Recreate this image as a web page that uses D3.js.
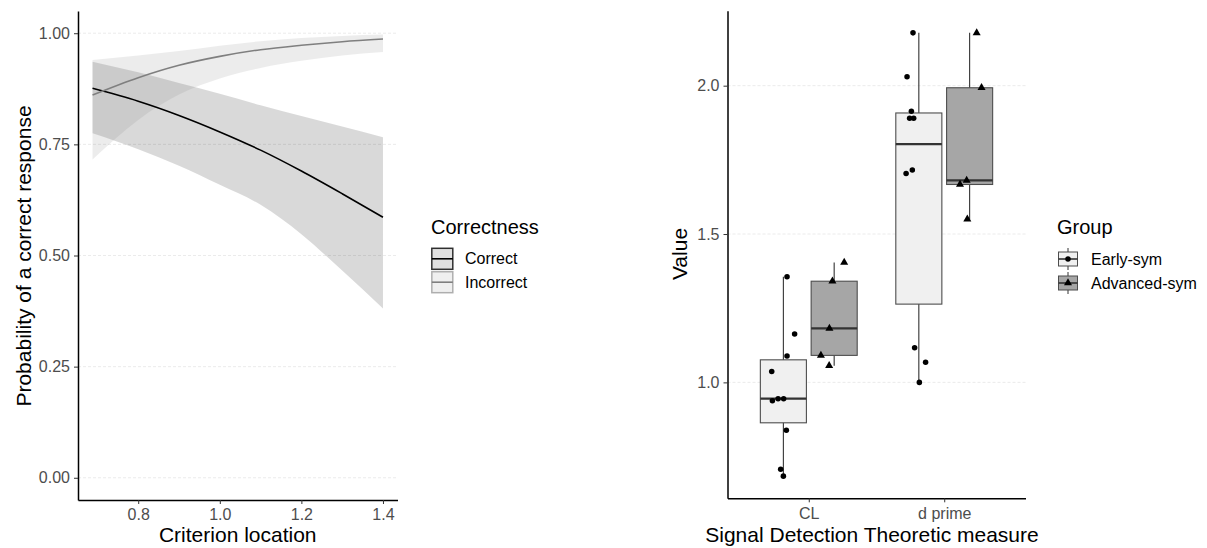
<!DOCTYPE html>
<html>
<head>
<meta charset="utf-8">
<script src="https://cdn.jsdelivr.net/npm/d3@7"></script>
<style>
  body { margin: 0; background: #fff; }
  svg text { font-family: "Liberation Sans", Arial, sans-serif; }
</style>
</head>
<body>
<div id="chart"></div>
<script>
// ---- left plot: fitted probability vs criterion location ----
var criterion = [0.688, 0.8, 0.9, 1.0, 1.1, 1.2, 1.3, 1.4];
var correctFit = [0.876, 0.847, 0.815, 0.778, 0.737, 0.690, 0.639, 0.586];
var correctLo = [0.775, 0.739, 0.702, 0.659, 0.614, 0.548, 0.466, 0.381];
var correctHi = [0.936, 0.912, 0.888, 0.864, 0.838, 0.814, 0.790, 0.766];
var incorrectFit = [0.861, 0.900, 0.928, 0.948, 0.963, 0.973, 0.981, 0.987];
var incorrectLo = [0.716, 0.805, 0.862, 0.898, 0.922, 0.938, 0.950, 0.958];
var incorrectHi = [0.940, 0.950, 0.960, 0.972, 0.982, 0.989, 0.994, 0.997];
var correctness = ["Correct", "Incorrect"];
var probTicks = [0, 0.25, 0.5, 0.75, 1];
var critTicks = [0.8, 1.0, 1.2, 1.4];

// ---- right plot: SDT measures per group ----
var measures = ["CL", "d prime"];
var groups = ["Early-sym", "Advanced-sym"];
var earlyCL = [1.356, 1.163, 1.089, 1.037, 0.938, 0.945, 0.945, 0.839, 0.707, 0.684];
var earlyCLJitter = [0.027, 0.083, 0.027, -0.086, -0.081, -0.039, 0.002, 0.022, -0.020, 0.0];
var advancedCL = [1.404, 1.341, 1.182, 1.091, 1.056];
var advancedCLJitter = [0.074, -0.013, -0.035, -0.098, -0.037];
var earlyDprime = [2.178, 2.030, 1.914, 1.890, 1.890, 1.704, 1.716, 1.117, 1.068, 1.000];
var earlyDprimeJitter = [-0.043, -0.087, -0.055, -0.068, -0.038, -0.094, -0.048, -0.031, 0.050, 0.004];
var advancedDprime = [2.178, 1.993, 1.681, 1.667, 1.550];
var advancedDprimeJitter = [0.052, 0.088, -0.022, -0.071, -0.017];
var valueTicks = [1.0, 1.5, 2.0];

// ggplot style 5% padding
function expand(ext) {
  var pad = (ext[1] - ext[0]) * 0.05;
  return [ext[0] - pad, ext[1] + pad];
}

var svg = d3.select("#chart")
  .append("svg")
  .attr("width", 1207)
  .attr("height", 548);

var lineCol = { "Correct": "#000000", "Incorrect": "#7f7f7f" };

// ================= left panel =================
var x = d3.scaleLinear()
  .domain(expand(d3.extent(criterion)))
  .range([78, 397.5]);
var y = d3.scaleLinear()
  .domain(expand([0, 1]))
  .range([500, 11]);

var left = svg.append("g");

// grid
left.selectAll(".grid")
  .data(probTicks)
  .enter().append("line")
  .attr("x1", x.range()[0]).attr("x2", x.range()[1])
  .attr("y1", function (d) { return y(d); })
  .attr("y2", function (d) { return y(d); })
  .attr("stroke", "#e6e6e6")
  .attr("stroke-width", 0.8)
  .attr("stroke-dasharray", "3,2");

var series = [
  { name: "Correct", fit: correctFit, lo: correctLo, hi: correctHi },
  { name: "Incorrect", fit: incorrectFit, lo: incorrectLo, hi: incorrectHi }
];

var area = d3.area()
  .x(function (d, i) { return x(criterion[i]); })
  .y0(function (d) { return y(d[0]); })
  .y1(function (d) { return y(d[1]); })
  .curve(d3.curveMonotoneX);

var line = d3.line()
  .x(function (d, i) { return x(criterion[i]); })
  .y(function (d) { return y(d); })
  .curve(d3.curveMonotoneX);

// ribbons
series.forEach(function (s) {
  left.append("path")
    .datum(s.lo.map(function (v, i) { return [v, s.hi[i]]; }))
    .attr("d", area)
    .attr("fill", lineCol[s.name])
    .attr("fill-opacity", 0.15);
});

// fitted lines
series.forEach(function (s) {
  left.append("path")
    .datum(s.fit)
    .attr("d", line)
    .attr("fill", "none")
    .attr("stroke", lineCol[s.name])
    .attr("stroke-width", 1.6);
});

// axes
var xAxisL = left.append("g")
  .attr("transform", "translate(0," + y.range()[0] + ")")
  .call(d3.axisBottom(x).tickValues(critTicks).tickFormat(d3.format(".1f"))
    .tickSize(4).tickSizeOuter(0).tickPadding(5));
var yAxisL = left.append("g")
  .attr("transform", "translate(" + x.range()[0] + ",0)")
  .call(d3.axisLeft(y).tickValues(probTicks).tickFormat(d3.format(".2f"))
    .tickSize(4).tickSizeOuter(0).tickPadding(4));

// titles
left.append("text")
  .attr("x", (x.range()[0] + x.range()[1]) / 2)
  .attr("y", 542)
  .attr("text-anchor", "middle")
  .style("font-size", "21px")
  .text("Criterion location");
left.append("text")
  .attr("transform", "translate(31,256) rotate(-90)")
  .attr("text-anchor", "middle")
  .style("font-size", "21px")
  .text("Probability of a correct response");

// legend
var legL = svg.append("g").attr("transform", "translate(431,0)");
legL.append("text")
  .attr("x", 0).attr("y", 234)
  .style("font-size", "20px")
  .text("Correctness");
correctness.forEach(function (c, i) {
  var ky = 247.5 + i * 23.4;
  legL.append("rect")
    .attr("x", 0.8).attr("y", ky + 0.8)
    .attr("width", 21).attr("height", 21)
    .attr("fill", lineCol[c]).attr("fill-opacity", 0.12)
    .attr("stroke", lineCol[c]).attr("stroke-opacity", c === "Correct" ? 0.8 : 0.6)
    .attr("stroke-width", 1.5);
  legL.append("line")
    .attr("x1", 0.8).attr("x2", 21.8)
    .attr("y1", ky + 11.3).attr("y2", ky + 11.3)
    .attr("stroke", lineCol[c]).attr("stroke-width", 1.6);
  legL.append("text")
    .attr("x", 34).attr("y", ky + 11.3)
    .attr("dy", "0.35em")
    .style("font-size", "16px")
    .text(c);
});

// ================= right panel =================
var boxData = [
  { m: 0, g: 0, vals: earlyCL, jit: earlyCLJitter },
  { m: 0, g: 1, vals: advancedCL, jit: advancedCLJitter },
  { m: 1, g: 0, vals: earlyDprime, jit: earlyDprimeJitter },
  { m: 1, g: 1, vals: advancedDprime, jit: advancedDprimeJitter }
];
var allVals = [].concat(earlyCL, advancedCL, earlyDprime, advancedDprime);

var xr = d3.scaleLinear()
  .domain([0.4, measures.length + 0.6])
  .range([727.5, 1025.5]);
var yr = d3.scaleLinear()
  .domain(expand(d3.extent(allVals)))
  .range([498.3, 10.7]);

var groupFill = ["#f0f0f0", "#a6a6a6"];
var dodge = 0.1875, halfW = 0.17;

var right = svg.append("g");

right.selectAll(".grid")
  .data(valueTicks)
  .enter().append("line")
  .attr("x1", xr.range()[0]).attr("x2", xr.range()[1])
  .attr("y1", function (d) { return yr(d); })
  .attr("y2", function (d) { return yr(d); })
  .attr("stroke", "#e6e6e6")
  .attr("stroke-width", 0.8)
  .attr("stroke-dasharray", "3,2");

// box stats (R type 7 quantiles, 1.5 IQR whiskers)
boxData.forEach(function (b) {
  var s = b.vals.slice().sort(d3.ascending);
  var q1 = d3.quantile(s, 0.25), med = d3.quantile(s, 0.5), q3 = d3.quantile(s, 0.75);
  var iqr = q3 - q1;
  var lo = d3.min(s.filter(function (v) { return v >= q1 - 1.5 * iqr; }));
  var hi = d3.max(s.filter(function (v) { return v <= q3 + 1.5 * iqr; }));
  var c = b.m + 1 + (b.g === 0 ? -dodge : dodge);

  right.append("line")
    .attr("x1", xr(c)).attr("x2", xr(c))
    .attr("y1", yr(hi)).attr("y2", yr(lo))
    .attr("stroke", "#333").attr("stroke-width", 1.1);
  right.append("rect")
    .attr("x", xr(c - halfW)).attr("width", xr(c + halfW) - xr(c - halfW))
    .attr("y", yr(q3)).attr("height", yr(q1) - yr(q3))
    .attr("fill", groupFill[b.g])
    .attr("stroke", "#4d4d4d").attr("stroke-width", 1.1);
  right.append("line")
    .attr("x1", xr(c - halfW)).attr("x2", xr(c + halfW))
    .attr("y1", yr(med)).attr("y2", yr(med))
    .attr("stroke", "#333").attr("stroke-width", 2.2);
});

// jittered points
var circleSym = d3.symbol().type(d3.symbolCircle).size(24);
var triSym = d3.symbol().type(d3.symbolTriangle).size(28);
boxData.forEach(function (b) {
  var c = b.m + 1 + (b.g === 0 ? -dodge : dodge);
  b.vals.forEach(function (v, i) {
    right.append("path")
      .attr("d", b.g === 0 ? circleSym : triSym)
      .attr("transform", "translate(" + xr(c + b.jit[i]) + "," + yr(v) + ")")
      .attr("fill", "#000");
  });
});

var xAxisR = right.append("g")
  .attr("transform", "translate(0," + yr.range()[0] + ")")
  .call(d3.axisBottom(xr).tickValues([1, 2])
    .tickFormat(function (d) { return measures[d - 1]; })
    .tickSize(4).tickSizeOuter(0).tickPadding(5));
var yAxisR = right.append("g")
  .attr("transform", "translate(" + xr.range()[0] + ",0)")
  .call(d3.axisLeft(yr).tickValues(valueTicks).tickFormat(d3.format(".1f"))
    .tickSize(4).tickSizeOuter(0).tickPadding(4));

right.append("text")
  .attr("x", 872)
  .attr("y", 542)
  .attr("text-anchor", "middle")
  .style("font-size", "21px")
  .text("Signal Detection Theoretic measure");
right.append("text")
  .attr("transform", "translate(687,254) rotate(-90)")
  .attr("text-anchor", "middle")
  .style("font-size", "21px")
  .text("Value");

// legend
var legR = svg.append("g").attr("transform", "translate(1057,0)");
legR.append("text")
  .attr("x", 0).attr("y", 234)
  .style("font-size", "20px")
  .text("Group");
groups.forEach(function (gname, i) {
  var cy = 259 + i * 24;
  legR.append("line")
    .attr("x1", 11).attr("x2", 11)
    .attr("y1", cy - 11).attr("y2", cy + 11)
    .attr("stroke", "#333").attr("stroke-width", 1);
  legR.append("rect")
    .attr("x", 1.5).attr("y", cy - 7)
    .attr("width", 19).attr("height", 14)
    .attr("fill", groupFill[i])
    .attr("stroke", "#4d4d4d").attr("stroke-width", 1);
  legR.append("line")
    .attr("x1", 1.5).attr("x2", 20.5)
    .attr("y1", cy).attr("y2", cy)
    .attr("stroke", "#333").attr("stroke-width", 1.6);
  legR.append("path")
    .attr("d", i === 0 ? circleSym : triSym)
    .attr("transform", "translate(11," + cy + ")")
    .attr("fill", "#000");
  legR.append("text")
    .attr("x", 34).attr("y", cy)
    .attr("dy", "0.35em")
    .style("font-size", "16px")
    .text(gname);
});

// axis styling
svg.selectAll(".domain").attr("stroke", "#000").attr("stroke-width", 1.5);
svg.selectAll(".tick line").attr("stroke", "#333").attr("stroke-width", 1);
svg.selectAll(".tick text")
  .attr("fill", "#4d4d4d")
  .style("font-size", "16px");
</script>
</body>
</html>
